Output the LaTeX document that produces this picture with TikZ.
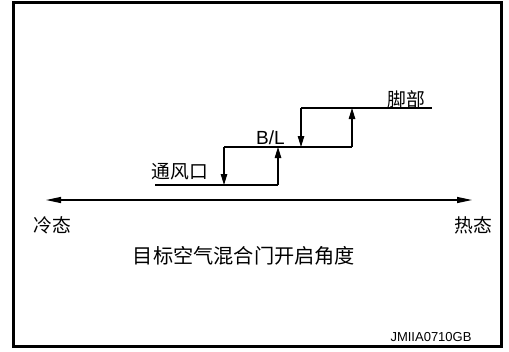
\documentclass[tikz,border=0pt]{standalone}
\usepackage{fontspec}
\setmainfont{Liberation Sans}
\newfontfamily\cjk{Noto Sans CJK SC}
\usetikzlibrary{arrows.meta}
\begin{document}
\begin{tikzpicture}[x=1bp,y=-1bp,
  stair/.style={line width=1.1bp,black},
  uparr/.style={stair,-{Triangle[length=11bp,width=6.5bp]}},
  axisarr/.style={line width=1.2bp,{Triangle[length=15bp,width=6bp]}-{Triangle[length=15bp,width=6bp]}},
  cjklabel/.style={font=\cjk\fontsize{18.8bp}{20bp}\selectfont,inner sep=0pt},
  latlabel/.style={font=\fontsize{19bp}{21bp}\selectfont,inner sep=0pt}]
\useasboundingbox (0,0) rectangle (509,351);
\draw[line width=3bp] (13.5,2.5) rectangle (501.5,346.5);
% staircase corners
\coordinate (b0) at (155,185);
\coordinate (b1) at (224,185);
\coordinate (b2) at (278,185);
\coordinate (m1) at (224,147);
\coordinate (m2) at (278,147);
\coordinate (m3) at (301,147);
\coordinate (m4) at (352,147);
\coordinate (t1) at (301,108);
\coordinate (t2) at (352,108);
\coordinate (t3) at (432,108);
\draw[stair] (b0) -- (b2);
\draw[uparr] (b2) -- (m2);
\draw[stair] (m1) -- (m4);
\draw[uparr] (m1) -- (b1);
\draw[uparr] (m4) -- (t2);
\draw[stair] (t1) -- (t3);
\draw[uparr] (t1) -- (m3);
% labels
\node[cjklabel] (vent) at (180,172) {通风口};
\node[latlabel] (bl) at (270.5,138) {B/L};
\node[cjklabel] (foot) at (406,99) {脚部};
% axis
\coordinate (axl) at (46,200);
\coordinate (axr) at (472,200);
\draw[axisarr] (axl) -- (axr);
\node[cjklabel] (cold) at (52,225) {冷态};
\node[cjklabel] (hot) at (473,225) {热态};
\node[cjklabel,font=\cjk\fontsize{20.2bp}{22bp}\selectfont] (cap) at (244,256) {目标空气混合门开启角度};
\node[inner sep=0pt,font=\fontsize{13bp}{14bp}\selectfont] (code) at (431,337.5) {JMIIA0710GB};
\end{tikzpicture}
\end{document}
